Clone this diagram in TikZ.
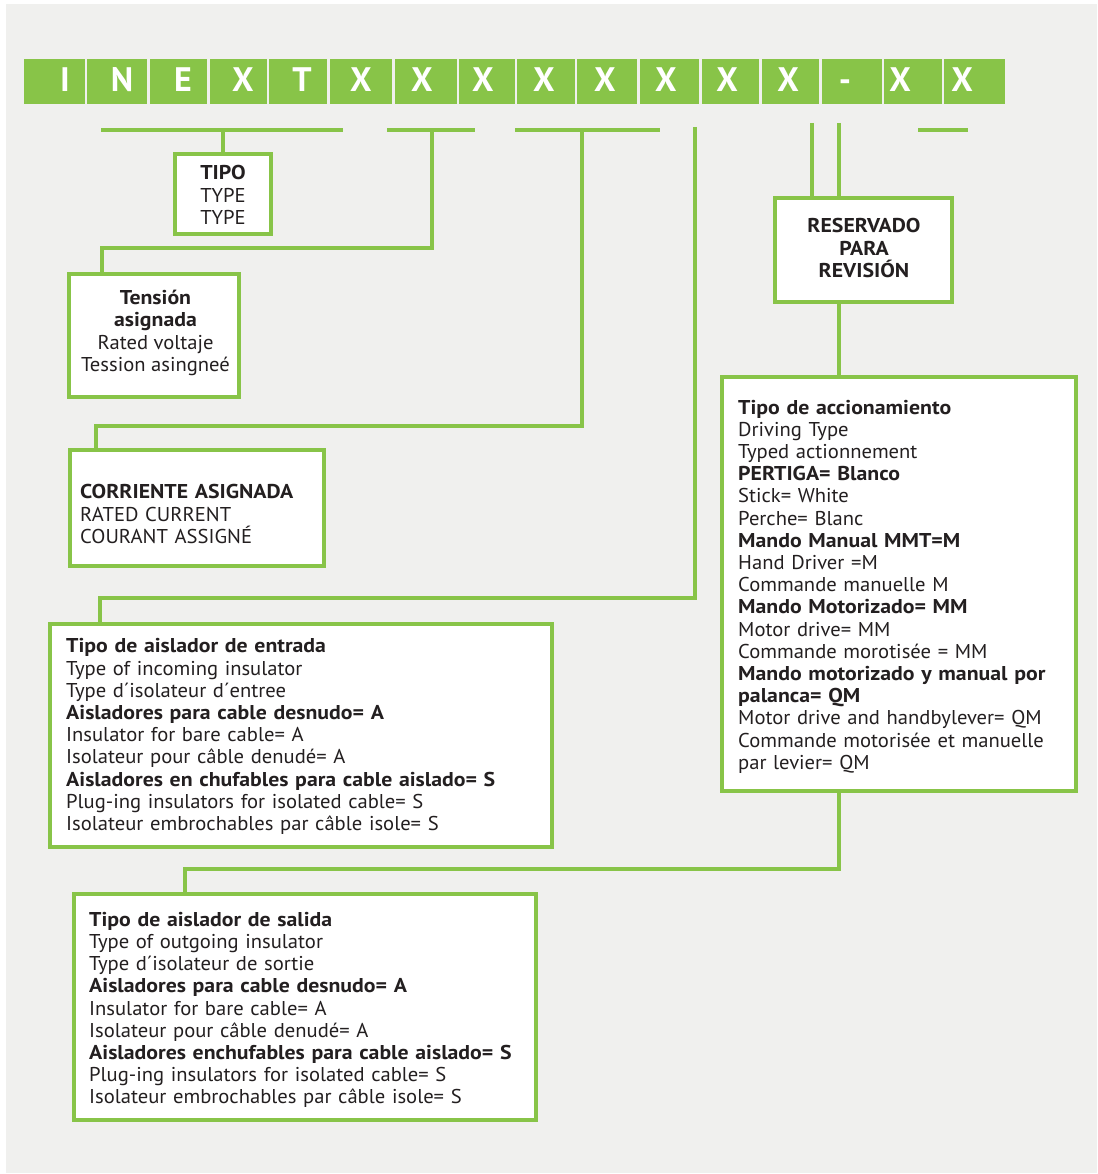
\documentclass[tikz,border=0pt]{standalone}
\usepackage{fontspec}
\setmainfont{PT Sans}[FakeStretch=1.03,BoldFeatures={FakeStretch=1.09}]
\newfontfamily\hdrfont{PT Sans}
\usetikzlibrary{calc}
\definecolor{grn}{RGB}{136,196,72}
\definecolor{bgc}{RGB}{240,240,238}
\definecolor{txt}{RGB}{35,31,32}
\begin{document}
\begin{tikzpicture}[x=1pt,y=-1pt,
  conn/.style={draw=grn,line width=4pt},
  box/.style={draw=grn,line width=4pt,fill=white,rectangle,inner sep=0pt},
  btext/.style={text=txt,inner sep=0pt,font=\fontsize{20}{22.2}\selectfont},
  ltext/.style={btext,anchor=west,text width=500pt,align=left},
  ctext/.style={btext,align=center},
  hdr/.style={text=white,font=\hdrfont\bfseries\fontsize{34}{34}\selectfont,inner sep=0pt,anchor=base}]
\useasboundingbox (0,0) rectangle (1097,1174);
\fill[white] (0,0) rectangle (1097,1174);
\fill[bgc] (6,4) rectangle (1097,1173);
% header row
\foreach \a/\b/\lx/\t [count=\i] in {24/85/65/I,87/147/122/N,150/207/183/E,210/267/243/X,269/327/302/T,330/392/361/X,395/457/422/X,459/515/483/X,517/575/544/X,577/637/605/X,640/699/666/X,702/759/727/X,762/819/788/X,822/882/845/-,884/942/900/X,944/1005/962/X}{
  \fill[grn] (\a,59) rectangle (\b,104);
  \node[hdr] (h\i) at (\lx,92) {\t};
}
% boxes
\node[box,minimum width=96pt,minimum height=80pt] (tipo) at (223,194) {};
\node[ctext] (tipot) at (223,195) {\textbf{TIPO}\\TYPE\\TYPE};
\node[box,minimum width=170pt,minimum height=123pt] (tens) at (154,335.5) {};
\node[ctext] (tenst) at (155.5,333) {\textbf{Tensión}\\\textbf{asignada}\\Rated voltaje\\Tession asingneé};
\node[box,minimum width=254pt,minimum height=116pt] (corr) at (197,508) {};
\node[ltext] (corrt) at (80,514) {\textbf{CORRIENTE ASIGNADA}\\RATED CURRENT\\COURANT ASSIGNÉ};
\node[box,minimum width=502pt,minimum height=223pt] (inc) at (301,735.5) {};
\node[ltext] (inct) at (66,736.5) {\textbf{Tipo de aislador de entrada}\\Type of incoming insulator\\Type d´isolateur d´entree\\\textbf{Aisladores para cable desnudo= A}\\Insulator for bare cable= A\\Isolateur pour câble denudé= A\\\textbf{Aisladores en chufables para cable aislado= S}\\Plug-ing insulators for isolated cable= S\\Isolateur embrochables par câble isole= S};
\node[box,minimum width=177pt,minimum height=104pt] (res) at (863.5,250) {};
\node[ctext] (rest) at (864,248) {\textbf{RESERVADO}\\\textbf{PARA}\\\textbf{REVISIÓN}};
\node[box,minimum width=354pt,minimum height=414pt] (acc) at (899,584) {};
\node[ltext] (acct) at (738,586.5) {\textbf{Tipo de accionamiento}\\Driving Type\\Typed actionnement\\\textbf{PERTIGA= Blanco}\\Stick= White\\Perche= Blanc\\\textbf{Mando Manual MMT=M}\\Hand Driver =M\\Commande manuelle M\\\textbf{Mando Motorizado= MM}\\Motor drive= MM\\Commande morotisée = MM\\\textbf{Mando motorizado y manual por}\\\textbf{palanca= QM}\\Motor drive and handbylever= QM\\Commande motorisée et manuelle\\par levier= QM};
\node[box,minimum width=462pt,minimum height=226pt] (out) at (305,1007) {};
\node[ltext] (outt) at (89,1010) {\textbf{Tipo de aislador de salida}\\Type of outgoing insulator\\Type d´isolateur de sortie\\\textbf{Aisladores para cable desnudo= A}\\Insulator for bare cable= A\\Isolateur pour câble denudé= A\\\textbf{Aisladores enchufables para cable aislado= S}\\Plug-ing insulators for isolated cable= S\\Isolateur embrochables par câble isole= S};
% connectors
\coordinate (b1l) at (101,130); \coordinate (b1r) at (343,130); \coordinate (b1m) at (223,130);
\coordinate (b2l) at (387,130); \coordinate (b2r) at (475,130); \coordinate (b2m) at (432,130); \coordinate (k2) at (102,248);
\coordinate (b3l) at (515,130); \coordinate (b3r) at (660,130); \coordinate (b3m) at (582,130); \coordinate (k3) at (96,426);
\coordinate (t4) at (695,127); \coordinate (k4) at (100,598);
\coordinate (r1) at (812,123); \coordinate (r2) at (839,123);
\coordinate (b6l) at (918,130); \coordinate (b6r) at (968,130);
\coordinate (k5) at (185,869);
\draw[conn] (b1l) -- (b1r);
\draw[conn] (b1m) -- (tipo.north);
\draw[conn] (b2l) -- (b2r);
\draw[conn] (b2m) |- (k2) -- (k2 |- tens.north);
\draw[conn] (b3l) -- (b3r);
\draw[conn] (b3m) |- (k3) -- (k3 |- corr.north);
\draw[conn] (t4) |- (k4) -- (k4 |- inc.north);
\draw[conn] (r1) -- (r1 |- res.north);
\draw[conn] (r2) -- (r2 |- res.north);
\draw[conn] (b6l) -- (b6r);
\draw[conn] (r2 |- res.south) -- (r2 |- acc.north);
\draw[conn] (r2 |- acc.south) |- (k5) -- (k5 |- out.north);
\end{tikzpicture}
\end{document}
